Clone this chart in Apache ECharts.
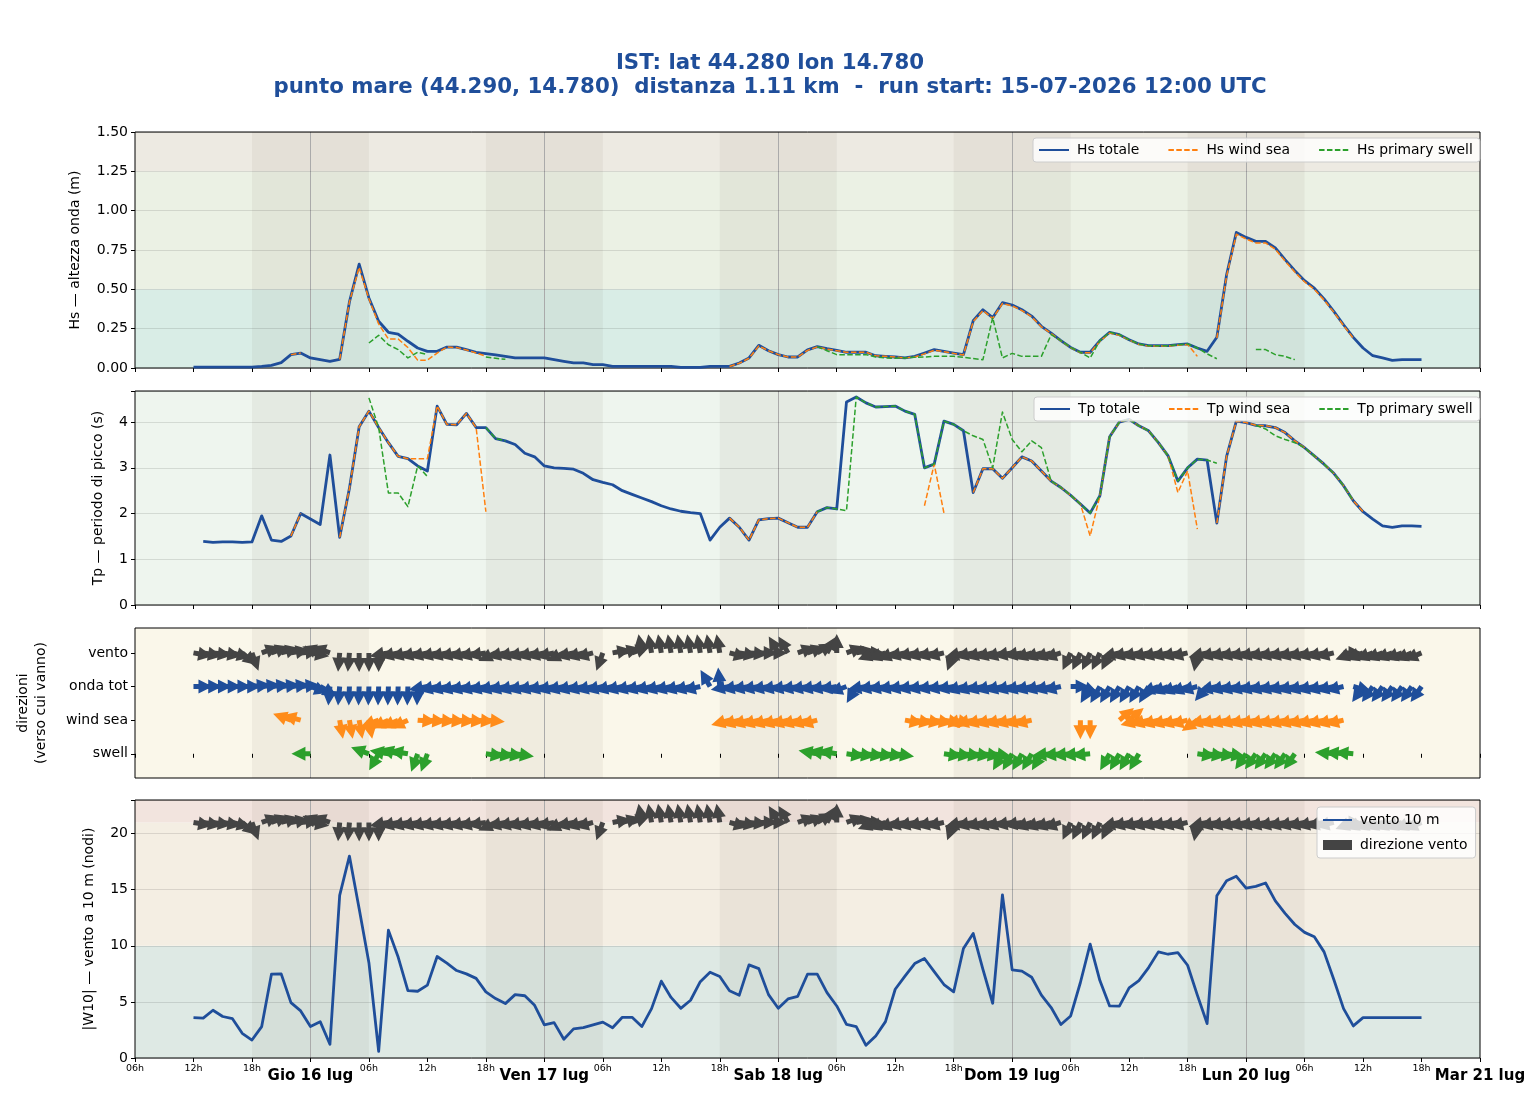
<!DOCTYPE html>
<html>
<head>
<meta charset="utf-8">
<title>IST - onde e vento</title>
<script src="https://cdn.jsdelivr.net/npm/echarts@6/dist/echarts.min.js"></script>
<style>
  html, body { margin: 0; padding: 0; background: #fff; }
  #chart { width: 1540px; height: 1100px; }
</style>
</head>
<body>
<div id="chart"></div>
<script>
// asse x in ore dal 15-07 06:00; dati orari da 12:00 del 15 a 18:00 del 20
var hours = []
for (var h = 6; h <= 132; h++) hours.push(h)

var hsTotale = [
  0.005, 0.005, 0.005, 0.005, 0.005, 0.005,
  0.005, 0.01, 0.017, 0.034, 0.085, 0.095,
  0.064, 0.053, 0.042, 0.055, 0.42, 0.66,
  0.445, 0.297, 0.227, 0.216, 0.17, 0.127,
  0.106, 0.106, 0.133, 0.133, 0.117, 0.10,
  0.091, 0.083, 0.074, 0.064, 0.064, 0.064,
  0.064, 0.053, 0.042, 0.032, 0.032, 0.021,
  0.021, 0.01, 0.01, 0.01, 0.01, 0.01,
  0.01, 0.01, 0.004, 0.004, 0.004, 0.01,
  0.01, 0.01, 0.032, 0.064, 0.144, 0.11,
  0.085, 0.07, 0.07, 0.115, 0.136, 0.123,
  0.112, 0.10, 0.10, 0.10, 0.078, 0.074,
  0.07, 0.064, 0.074, 0.095, 0.117, 0.106,
  0.095, 0.085, 0.30, 0.37, 0.32, 0.415,
  0.40, 0.37, 0.33, 0.265, 0.222, 0.174,
  0.131, 0.10, 0.10, 0.174, 0.227, 0.212,
  0.18, 0.153, 0.142, 0.142, 0.142, 0.148,
  0.153, 0.127, 0.106, 0.195, 0.593, 0.862,
  0.83, 0.805, 0.805, 0.763, 0.689, 0.619,
  0.555, 0.508, 0.439, 0.36, 0.275, 0.195,
  0.127, 0.078, 0.064, 0.049, 0.053, 0.053,
  0.053
]
var hsWindSea = [
  null, null, null, null, null, null,
  null, null, null, null, 0.085, 0.095,
  null, null, null, 0.055, 0.42, 0.64,
  0.44, 0.28, 0.184, 0.184, 0.13, 0.05,
  0.05, 0.095, 0.133, 0.13, 0.115, 0.095,
  0.075, null, null, null, null, null,
  null, null, null, null, null, null,
  null, null, null, null, null, null,
  null, null, null, null, null, null,
  null, 0.01, 0.03, 0.062, 0.14, 0.11,
  0.085, 0.07, 0.07, 0.112, 0.134, 0.12,
  0.11, 0.10, 0.10, 0.10, 0.078, 0.074,
  0.07, 0.064, 0.07, 0.09, 0.112, 0.104,
  0.093, 0.083, 0.295, 0.365, 0.315, 0.41,
  0.395, 0.365, 0.325, 0.262, 0.22, 0.172,
  0.13, 0.097, 0.097, 0.17, 0.222, 0.208,
  0.178, 0.15, 0.14, 0.14, 0.14, 0.145,
  0.15, 0.074, null, 0.19, 0.585, 0.85,
  0.82, 0.795, 0.795, 0.755, 0.68, 0.61,
  0.548, 0.5, 0.432, 0.355, 0.27, 0.19,
  null, null, null, null, null, null,
  null
]
var hsSwell = [
  null, null, null, null, null, null,
  null, null, null, null, null, null,
  null, null, null, null, null, null,
  0.159, 0.208, 0.148, 0.117, 0.064, 0.10,
  0.085, null, null, null, null, null,
  0.07, 0.062, 0.055, null, null, null,
  null, null, null, null, null, null,
  null, null, null, null, null, null,
  null, null, null, null, null, null,
  null, null, null, null, null, null,
  null, null, null, null, 0.136, 0.11,
  0.085, 0.085, 0.085, 0.085, 0.07, 0.064,
  0.062, 0.064, 0.068, 0.07, 0.074, 0.074,
  0.074, 0.068, 0.06, 0.053, 0.32, 0.064,
  0.093, 0.074, 0.074, 0.074, 0.212, 0.174,
  0.131, 0.10, 0.064, 0.174, 0.227, 0.212,
  0.18, 0.153, 0.142, 0.142, 0.142, 0.148,
  0.153, 0.127, 0.09, 0.059, null, null,
  null, 0.117, 0.117, 0.085, 0.074, 0.053,
  null, null, null, null, null, null,
  null, null, null, null, null, null,
  null
]

var tpTotale = [
  null, 1.39, 1.37, 1.38, 1.38, 1.37,
  1.38, 1.95, 1.42, 1.39, 1.51, 2.0,
  1.88, 1.76, 3.28, 1.48, 2.55, 3.9,
  4.24, 3.88, 3.55, 3.25, 3.2, 3.04,
  2.93, 4.35, 3.95, 3.94, 4.19, 3.88,
  3.88, 3.64, 3.59, 3.51, 3.32, 3.24,
  3.04, 3.0, 2.99, 2.97, 2.88, 2.74,
  2.68, 2.63, 2.5, 2.42, 2.34, 2.26,
  2.17, 2.1, 2.05, 2.02, 2.0, 1.42,
  1.7, 1.9, 1.7, 1.42, 1.86, 1.89,
  1.9, 1.8, 1.7, 1.7, 2.04, 2.13,
  2.10, 4.44, 4.55, 4.42, 4.33, 4.34,
  4.35, 4.24, 4.17, 3.0, 3.08, 4.02,
  3.95, 3.81, 2.46, 2.98, 2.98, 2.77,
  3.0, 3.24, 3.15, 2.93, 2.71, 2.57,
  2.40, 2.21, 2.01, 2.39, 3.68, 4.0,
  4.06, 3.92, 3.81, 3.55, 3.26, 2.71,
  3.0, 3.19, 3.17, 1.79, 3.25, 4.02,
  3.99, 3.93, 3.92, 3.88, 3.77, 3.59,
  3.44, 3.26, 3.08, 2.88, 2.61, 2.28,
  2.04, 1.88, 1.73, 1.70, 1.73, 1.73,
  1.72
]
var tpWindSea = [
  null, null, null, null, null, null,
  null, null, null, null, 1.51, 2.0,
  null, null, null, 1.48, 2.55, 3.9,
  4.24, 3.88, 3.55, 3.25, 3.2, 3.2,
  3.2, 4.35, 3.95, 3.94, 4.19, 3.88,
  2.04, null, null, null, null, null,
  null, null, null, null, null, null,
  null, null, null, null, null, null,
  null, null, null, null, null, null,
  null, 1.9, 1.7, 1.42, 1.86, 1.89,
  1.9, 1.8, 1.7, 1.7, 2.04, null,
  null, null, null, null, null, null,
  null, null, null, 2.17, 3.08, 2.01,
  null, null, 2.46, 2.98, 2.98, 2.77,
  3.0, 3.24, 3.15, 2.93, 2.71, 2.57,
  2.40, 2.21, 1.51, 2.39, 3.68, 4.0,
  4.06, 3.92, 3.81, 3.55, 3.26, 2.46,
  2.93, 1.66, null, 1.79, 3.25, 4.02,
  3.99, 3.93, 3.92, 3.88, 3.77, 3.59,
  3.44, 3.26, 3.08, 2.88, 2.61, 2.28,
  2.04, null, null, null, null, null,
  null
]
var tpSwell = [
  null, null, null, null, null, null,
  null, null, null, null, null, null,
  null, null, null, null, null, null,
  4.53, 3.88, 2.45, 2.45, 2.15, 3.04,
  2.81, null, null, null, null, null,
  3.88, 3.64, 3.59, null, null, null,
  null, null, null, null, null, null,
  null, null, null, null, null, null,
  null, null, null, null, null, null,
  null, null, null, null, null, null,
  null, null, null, null, 2.04, 2.13,
  2.10, 2.06, 4.55, 4.42, 4.33, 4.34,
  4.35, 4.24, 4.17, 3.0, 3.08, 4.02,
  3.95, 3.81, 3.70, 3.62, 3.0, 4.22,
  3.62, 3.35, 3.59, 3.44, 2.71, 2.57,
  2.40, 2.21, 2.01, 2.39, 3.68, 4.0,
  4.06, 3.92, 3.81, 3.55, 3.26, 2.71,
  3.0, 3.19, 3.17, 3.1, null, null,
  null, 3.93, 3.85, 3.7, 3.62, 3.55,
  3.44, 3.26, 3.08, 2.88, 2.61, 2.28,
  null, null, null, null, null, null,
  null
]

var wind10 = [
  3.6, 3.55, 4.26, 3.7, 3.5, 2.2,
  1.6, 2.8, 7.47, 7.5, 4.94, 4.2,
  2.8, 3.24, 1.22, 14.5, 18.0, 13.3,
  8.5, 0.6, 11.4, 9.0, 6.0, 5.95,
  6.5, 9.05, 8.45, 7.8, 7.5, 7.1,
  5.9, 5.3, 4.85, 5.65, 5.55, 4.7,
  2.95, 3.15, 1.67, 2.6, 2.7, 2.95,
  3.2, 2.7, 3.63, 3.63, 2.8, 4.4,
  6.85, 5.4, 4.43, 5.15, 6.8, 7.65,
  7.26, 6.0, 5.6, 8.3, 7.97, 5.65,
  4.43, 5.27, 5.5, 7.47, 7.47, 5.83,
  4.64, 3.0, 2.8, 1.13, 1.96, 3.24,
  6.13, 7.3, 8.42, 8.87, 7.7, 6.55,
  5.9, 9.76, 11.1, 7.9, 4.88, 14.55,
  7.86, 7.74, 7.2, 5.6, 4.5, 2.98,
  3.75, 6.73, 10.15, 6.9, 4.64, 4.63,
  6.25, 6.9, 8.06, 9.46, 9.25, 9.4,
  8.27, 5.6, 3.07, 14.46, 15.8, 16.2,
  15.15, 15.3, 15.6, 14.0, 12.9, 11.9,
  11.2, 10.8, 9.46, 7.0, 4.4, 2.86,
  3.6, 3.6, 3.6, 3.6, 3.6, 3.6,
  3.6
]

// direzioni "verso cui vanno", gradi sullo schermo (0 = destra, 90 = su)
var dirVento = [
  -10, -10, -8, -10, -15, -40,
  -70, 20, 20, 15, 10, 5,
  -10, 160, 160, -95, -95, -90,
  -90, -90, 190, 193, 193, 193,
  193, 193, 193, 193, 193, 193,
  190, 205, 193, 193, 193, 193,
  193, 193, 205, 193, 195, 195,
  -110, 10, 15, 20, 100, 100,
  100, 100, 100, 100, 100, 100,
  100, -15, -10, -5, 0, 0,
  120, 120, 20, 20, 30, 60,
  90, 20, 10, 0, 200, 200,
  200, 193, 193, 193, 193, 193,
  250, 193, 193, 195, 195, 195,
  190, 190, 198, 198, 198, 198,
  245, 245, 245, 245, 245, 193,
  193, 193, 193, 193, 193, 193,
  193, 260, 193, 193, 193, 193,
  193, 193, 193, 193, 193, 193,
  193, 193, 193, 193, 0, 200,
  200, 200, 200, 200, 200, 203,
  203
]
var dirOnda = [
  0, 0, 0, 0, 0, 0,
  5, 5, 5, 5, 5, 5,
  -20, -30, -95, -95, -92, -92,
  -92, -92, -92, -92, -92, -92,
  190, 193, 193, 193, 193, 193,
  193, 193, 193, 193, 193, 193,
  193, 193, 193, 193, 193, 193,
  193, 193, 193, 193, 193, 193,
  193, 193, 193, 193, 193, 120,
  95, 190, 190, 190, 190, 190,
  190, 190, 190, 190, 190, 190,
  190, 200, 240, 190, 190, 190,
  190, 190, 190, 190, 190, 190,
  190, 195, 195, 193, 193, 193,
  193, 193, 193, 193, 193, 193,
  0, -20, 240, 240, 240, 240,
  240, 240, 240, 200, 200, 200,
  200, 195, 230, 193, 193, 193,
  193, 193, 193, 193, 193, 193,
  193, 193, 193, 193, 193, -15,
  235, 235, 235, 235, 235, 235,
  235
]
var dirWindSea = [
  null, null, null, null, null, null,
  null, null, null, null, 160, 165,
  null, null, null, -80, -80, -80,
  -80, 200, 205, 205, 205, -5,
  -5, -5, -5, -5, -5, -5,
  -5, null, null, null, null, null,
  null, null, null, null, null, null,
  null, null, null, null, null, null,
  null, null, null, null, null, null,
  null, 195, 195, 195, 195, 195,
  195, 195, 195, 195, 195, null,
  null, null, null, null, null, null,
  null, -10, -10, -10, -10, -10,
  -10, 193, 193, 193, 193, 193,
  193, 193, 193, null, null, null,
  null, -90, -90, null, null, 40,
  40, 195, 195, 195, 195, 195,
  195, 215, 193, 193, 193, 193,
  193, 193, 193, 193, 193, 193,
  193, 193, 193, 193, 193, null,
  null, null, null, null, null, null,
  null
]
var dirSwell = [
  null, null, null, null, null, null,
  null, null, null, null, null, null,
  180, null, null, null, null, null,
  160, 240, 170, 165, 170, 250,
  250, null, null, null, null, null,
  -8, -8, -8, -8, null, null,
  null, null, null, null, null, null,
  null, null, null, null, null, null,
  null, null, null, null, null, null,
  null, null, null, null, null, null,
  null, null, null, null, 170, 170,
  170, -8, -8, -8, -8, -8,
  -8, null, null, null, null, -8,
  -8, -8, -8, -8, -8, 240,
  240, 240, 240, 240, 185, 185,
  185, 185, 185, null, 240, 240,
  240, 240, null, null, null, null,
  null, -8, -8, -8, -8, null,
  235, 235, 235, 235, 235, 235,
  null, null, null, 175, 175, 175,
  null, null, null, null, null, null,
  null
]

var rowNames = ['swell', 'wind sea', 'onda tot', 'vento']
var dayNames = ['Gio 16 lug', 'Ven 17 lug', 'Sab 18 lug', 'Dom 19 lug', 'Lun 20 lug', 'Mar 21 lug']
var nights = [[12, 24], [36, 48], [60, 72], [84, 96], [108, 120]]
var midnights = [18, 42, 66, 90, 114]
var hsBands = [[0, 0.5], [0.5, 1.25], [1.25, 1.5]]
var tpBands = [[0, 4.68]]
var dirBands = [[-0.72, 3.74]]
var windBands = [[0, 10], [10, 21], [21, 23]]

var FONT = 'DejaVu Sans'
var BLUE = '#1f4e9a'
var ORANGE = '#ff7f0e'
var GREEN = '#2ca02c'
var DARK = '#444444'
// freccia che punta in alto, coda al centro del riquadro
var ARROW = 'path://M7 0 L14 14 L9.5 14 L9.5 19 L4.5 19 L4.5 14 L0 14 Z M7 38 L7 38 Z'

function pairs (values) {
  return hours.map(function (h, i) {
    return [h, values[i]]
  })
}

function arrows (angles, y) {
  let out = []
  hours.forEach(function (h, i) {
    if (angles[i] !== null) out.push([h, y, angles[i]])
  })
  return out
}

function bandSeries (grid, bands, colors) {
  return {
    type: 'custom',
    xAxisIndex: grid,
    yAxisIndex: grid,
    silent: true,
    z: -3,
    encode: { y: [0, 1] },
    data: bands,
    renderItem: function (params, api) {
      let cs = params.coordSys
      let yTop = api.coord([0, api.value(1)])[1]
      let yBot = api.coord([0, api.value(0)])[1]
      return {
        type: 'rect',
        shape: { x: cs.x, y: yTop, width: cs.width, height: yBot - yTop },
        style: { fill: colors[params.dataIndex] }
      }
    }
  }
}

function nightSeries (grid) {
  return {
    type: 'custom',
    xAxisIndex: grid,
    yAxisIndex: grid,
    silent: true,
    z: -2,
    encode: { x: [0, 1] },
    data: nights,
    renderItem: function (params, api) {
      let cs = params.coordSys
      let x0 = api.coord([api.value(0), 0])[0]
      let x1 = api.coord([api.value(1), 0])[0]
      return {
        type: 'rect',
        shape: { x: x0, y: cs.y, width: x1 - x0, height: cs.height },
        style: { fill: 'rgba(70, 60, 30, 0.055)' }
      }
    }
  }
}

function midnightSeries (grid) {
  return {
    type: 'custom',
    xAxisIndex: grid,
    yAxisIndex: grid,
    silent: true,
    z: -1,
    encode: { x: 0 },
    data: midnights.map(function (m) { return [m] }),
    renderItem: function (params, api) {
      let cs = params.coordSys
      let x = Math.round(api.coord([api.value(0), 0])[0]) + 0.5
      return {
        type: 'line',
        shape: { x1: x, y1: cs.y, x2: x, y2: cs.y + cs.height },
        style: { stroke: '#aaaaaa', lineWidth: 1 }
      }
    }
  }
}

function lineSeries (name, grid, values, color, width, dashed) {
  return {
    name: name,
    type: 'line',
    xAxisIndex: grid,
    yAxisIndex: grid,
    data: pairs(values),
    symbol: 'none',
    showSymbol: false,
    connectNulls: false,
    silent: true,
    lineStyle: { color: color, width: width, type: dashed ? [5.5, 2.4] : 'solid', cap: 'butt', join: 'round' },
    itemStyle: { color: color }
  }
}

function arrowSeries (name, grid, angles, y, color) {
  return {
    name: name,
    type: 'scatter',
    xAxisIndex: grid,
    yAxisIndex: grid,
    data: arrows(angles, y),
    symbol: ARROW,
    symbolSize: [14, 38],
    symbolRotate: function (v) { return v[2] - 90 },
    silent: true,
    itemStyle: { color: color, opacity: 1 }
  }
}

function xAxisFor (grid) {
  return {
    type: 'value',
    gridIndex: grid,
    position: 'bottom',
    min: 0,
    max: 138,
    interval: 6,
    axisLine: { show: false },
    axisTick: { show: true, length: 4, lineStyle: { color: '#000' } },
    axisLabel: {
      show: grid === 3,
      fontFamily: FONT,
      fontSize: 9.5,
      color: '#000',
      margin: 6,
      formatter: function (v) {
        let hod = (v + 6) % 24
        if (hod === 0) return ''
        return (hod < 10 ? '0' : '') + hod + 'h'
      }
    },
    splitLine: { show: false }
  }
}

function yAxisBase (grid, extra) {
  let ax = {
    type: 'value',
    gridIndex: grid,
    nameLocation: 'middle',
    nameTextStyle: { fontFamily: FONT, fontSize: 14, color: '#000', lineHeight: 18 },
    axisLine: { show: false },
    axisTick: { show: true, length: 4, lineStyle: { color: '#000' } },
    axisLabel: { fontFamily: FONT, fontSize: 14, color: '#000', margin: 7 },
    splitLine: { show: true, lineStyle: { color: 'rgba(0, 0, 0, 0.11)', width: 1 } }
  }
  return Object.assign(ax, extra)
}

let gridBox = function (top, height) {
  return { left: 135, right: 60, top: top, height: height, show: true, borderColor: '#000', borderWidth: 1, backgroundColor: 'transparent', containLabel: false }
}

let legendBase = {
  selectedMode: false,
  backgroundColor: 'rgba(255, 255, 255, 0.8)',
  borderColor: '#cccccc',
  borderWidth: 1,
  borderRadius: 3,
  itemStyle: { opacity: 0 },
  textStyle: { fontFamily: FONT, fontSize: 13.9, color: '#000', padding: [0, 0, 0, 3] }
}

let option = {
  animation: false,
  backgroundColor: '#ffffff',
  title: {
    text: 'IST: lat 44.280 lon 14.780\npunto mare (44.290, 14.780)  distanza 1.11 km  -  run start: 15-07-2026 12:00 UTC',
    left: 770,
    top: 51,
    padding: 0,
    textAlign: 'center',
    textStyle: { fontFamily: FONT, fontSize: 21.3, fontWeight: 'bold', color: BLUE, lineHeight: 24 }
  },
  legend: [
    Object.assign({}, legendBase, {
      left: 1033, top: 138, padding: [5, 7, 5, 5], itemWidth: 30, itemHeight: 14, itemGap: 28,
      data: ['Hs totale', 'Hs wind sea', 'Hs primary swell']
    }),
    Object.assign({}, legendBase, {
      left: 1034, top: 397, padding: [5, 7, 5, 5], itemWidth: 30, itemHeight: 14, itemGap: 28,
      data: ['Tp totale', 'Tp wind sea', 'Tp primary swell']
    }),
    Object.assign({}, legendBase, {
      left: 1317, top: 807, orient: 'vertical', padding: [6, 8, 6, 5], itemWidth: 29, itemHeight: 10, itemGap: 11,
      data: ['vento 10 m', { name: 'direzione vento', icon: 'rect', itemStyle: { color: DARK, opacity: 1 } }]
    })
  ],
  grid: [gridBox(132, 236), gridBox(391, 214), gridBox(628, 150), gridBox(800, 258)],
  xAxis: [
    xAxisFor(0), xAxisFor(1), xAxisFor(2), xAxisFor(3),
    {
      type: 'value',
      gridIndex: 3,
      position: 'bottom',
      offset: 0,
      min: 0,
      max: 138,
      interval: 6,
      axisLine: { show: false },
      axisTick: { show: false },
      splitLine: { show: false },
      axisLabel: {
        fontFamily: FONT,
        fontSize: 15,
        fontWeight: 'bold',
        color: '#000',
        margin: 11,
        formatter: function (v) {
          if ((v + 6) % 24 !== 0) return ''
          return dayNames[(v - 18) / 24]
        }
      }
    }
  ],
  yAxis: [
    yAxisBase(0, {
      min: 0, max: 1.5, interval: 0.25,
      name: 'Hs — altezza onda (m)', nameGap: 51,
      axisLabel: { fontFamily: FONT, fontSize: 14, color: '#000', margin: 7, formatter: function (v) { return v.toFixed(2) } }
    }),
    yAxisBase(1, {
      min: 0, max: 4.68, interval: 1,
      name: 'Tp — periodo di picco (s)', nameGap: 28,
      axisLabel: { fontFamily: FONT, fontSize: 14, color: '#000', margin: 7, formatter: function (v) { return v % 1 === 0 ? String(v) : '' } }
    }),
    yAxisBase(2, {
      min: -0.72, max: 3.74,
      name: 'direzioni\n(verso cui vanno)', nameGap: 85,
      axisTick: { show: true, length: 4, lineStyle: { color: '#000' }, customValues: [0, 1, 2, 3] },
      axisLabel: { fontFamily: FONT, fontSize: 14, color: '#000', margin: 7, customValues: [0, 1, 2, 3], formatter: function (v) { return rowNames[Math.round(v)] } },
      splitLine: { show: false }
    }),
    yAxisBase(3, {
      min: 0, max: 23, interval: 5,
      name: '|W10| — vento a 10 m (nodi)', nameGap: 37,
      axisLabel: { fontFamily: FONT, fontSize: 14, color: '#000', margin: 7, formatter: function (v) { return v % 5 === 0 ? String(v) : '' } }
    })
  ],
  series: [
    bandSeries(0, hsBands, ['#d9ede6', '#ebf1e4', '#edeae2']),
    nightSeries(0),
    midnightSeries(0),
    lineSeries('Hs totale', 0, hsTotale, BLUE, 2.8, false),
    lineSeries('Hs wind sea', 0, hsWindSea, ORANGE, 1.5, true),
    lineSeries('Hs primary swell', 0, hsSwell, GREEN, 1.5, true),

    bandSeries(1, tpBands, ['#eef5ee']),
    nightSeries(1),
    midnightSeries(1),
    lineSeries('Tp totale', 1, tpTotale, BLUE, 2.8, false),
    lineSeries('Tp wind sea', 1, tpWindSea, ORANGE, 1.5, true),
    lineSeries('Tp primary swell', 1, tpSwell, GREEN, 1.5, true),

    bandSeries(2, dirBands, ['#faf7ea']),
    nightSeries(2),
    midnightSeries(2),
    arrowSeries('vento', 2, dirVento, 3, DARK),
    arrowSeries('onda tot', 2, dirOnda, 2, BLUE),
    arrowSeries('wind sea', 2, dirWindSea, 1, '#ff8c1a'),
    arrowSeries('swell', 2, dirSwell, 0, GREEN),

    bandSeries(3, windBands, ['#dee9e4', '#f4eee3', '#f2e4de']),
    nightSeries(3),
    midnightSeries(3),
    lineSeries('vento 10 m', 3, wind10, BLUE, 2.8, false),
    arrowSeries('direzione vento', 3, dirVento, 21, DARK)
  ]
}

let myChart = echarts.init(document.getElementById('chart'), null, { renderer: 'canvas' })
myChart.setOption(option)
</script>
</body>
</html>
